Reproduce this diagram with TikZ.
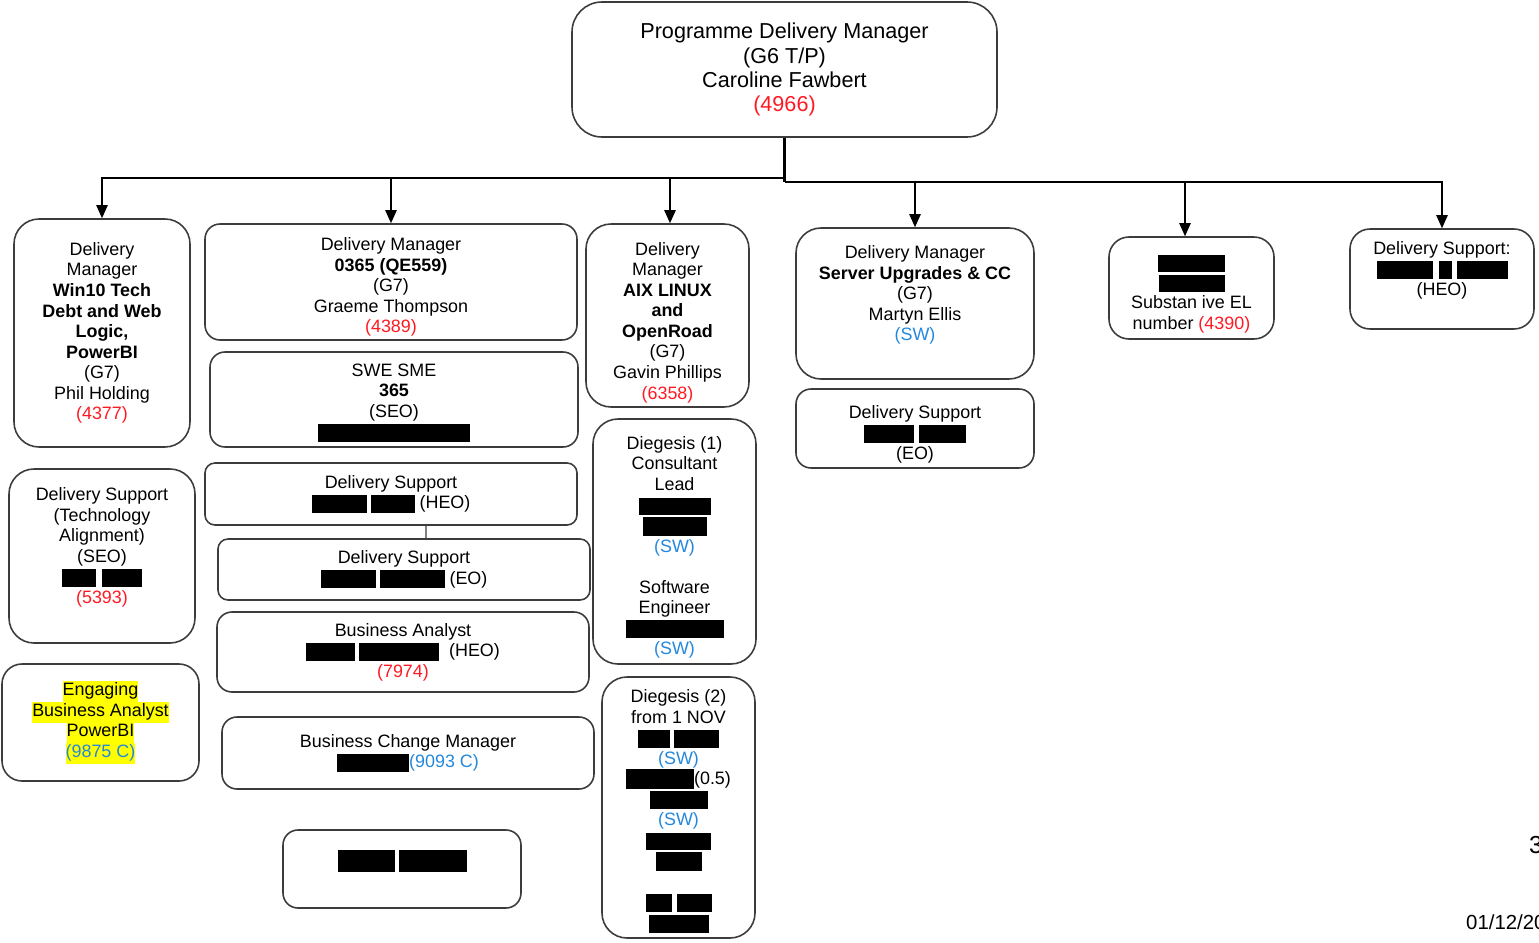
\documentclass[tikz,border=0pt]{standalone}
\usepackage{fontspec}
\setmainfont{Liberation Sans}
\usetikzlibrary{arrows.meta}
\definecolor{numred}{RGB}{255,25,35}
\definecolor{swblue}{RGB}{35,135,220}
\definecolor{hlyellow}{RGB}{255,255,0}
\definecolor{boxgray}{RGB}{60,60,60}
\newlength\pxu \setlength\pxu{0.02cm}
\newcommand{\blk}[2]{\rule[-4\pxu]{#1\pxu}{#2\pxu}}
\newcommand{\topgap}[1]{\rule{0pt}{#1\pxu}}
\newcommand{\hlt}[1]{{\setlength{\fboxsep}{0pt}\colorbox{hlyellow}{\strut #1}}}
\tikzset{
	orgbox/.style={draw=boxgray,line width=0.9pt,align=center,inner sep=2pt,font=\fontsize{10.2}{11.7}\selectfont},
	wh/.style 2 args={minimum width=#1*0.02cm,minimum height=#2*0.02cm},
	arr/.style={-{Triangle[length=7.5pt,width=6.5pt]},line width=0.9pt},
}
\begin{document}
\begin{tikzpicture}[x=0.02cm,y=-0.02cm]
	\useasboundingbox (0,0) rectangle (1539,943);
	
	%top
	\node[orgbox,wh={425}{135},rounded corners=0.6cm,font=\fontsize{12.3}{13.7}\selectfont] (pdm) at (784.5,69.5) {Programme Delivery Manager\\(G6 T/P)\\Caroline Fawbert\\\textcolor{numred}{(4966)}};
	
	%managers
	\node[orgbox,wh={176}{228},rounded corners=0.5cm] (dmwin) at (102,333) {Delivery\\Manager\\\textbf{Win10 Tech}\\\textbf{Debt and Web}\\\textbf{Logic,}\\\textbf{PowerBI}\\(G7)\\Phil Holding\\\textcolor{numred}{(4377)}};
	\node[orgbox,wh={372}{116},rounded corners=0.3cm] (dmo365) at (391,282) {\topgap{23}Delivery Manager\\\textbf{0365 (QE559)}\\(G7)\\Graeme Thompson\\\textcolor{numred}{(4389)}};
	\node[orgbox,wh={163}{183},rounded corners=0.5cm] (dmaix) at (667.5,315.5) {\topgap{27}Delivery\\Manager\\\textbf{AIX LINUX}\\\textbf{and}\\\textbf{OpenRoad}\\(G7)\\Gavin Phillips\\\textcolor{numred}{(6358)}};
	\node[orgbox,wh={238}{151},rounded corners=0.5cm] (dmsrv) at (915,303.5) {Delivery Manager\\\textbf{Server Upgrades \& CC}\\(G7)\\Martyn Ellis\\\textcolor{swblue}{(SW)}\\\mbox{}};
	\node[orgbox,wh={165}{102},rounded corners=0.4cm] (subst) at (1191.5,288) {\topgap{25}\blk{67}{17}\\\blk{66}{17}\\Substan ive EL\\number \textcolor{numred}{(4390)}};
	\node[orgbox,wh={184}{100},rounded corners=0.4cm] (dsheo2) at (1442,279) {Delivery Support:\\\blk{56}{18}\hspace{6\pxu}\blk{13}{18}\hspace{5\pxu}\blk{51}{18}\\(HEO)\\\mbox{}};
	
	%left column
	\node[orgbox,wh={186}{174},rounded corners=0.5cm] (dstech) at (102,556) {Delivery Support\\(Technology\\Alignment)\\(SEO)\\\blk{34}{18}\hspace{6\pxu}\blk{40}{18}\\\textcolor{numred}{(5393)}\\\mbox{}};
	\node[orgbox,wh={197}{117},rounded corners=0.4cm] (eba) at (100.5,722.5) {\hlt{Engaging}\\\hlt{Business Analyst}\\\hlt{PowerBI}\\\hlt{\textcolor{swblue}{(9875 C)}}};
	
	%0365 team
	\node[orgbox,wh={368}{95},rounded corners=0.3cm] (swe) at (394,399.5) {\topgap{19}SWE SME\\\textbf{365}\\(SEO)\\\blk{152}{18}};
	\node[orgbox,wh={372}{62},rounded corners=0.2cm] (dsheo) at (391,494) {Delivery Support\\\blk{55}{18}\hspace{4\pxu}\blk{44}{18} (HEO)};
	\node[orgbox,wh={372}{61},rounded corners=0.2cm] (dseo) at (404,569.5) {Delivery Support\\\blk{55}{18}\hspace{4\pxu}\blk{65}{18} (EO)};
	\node[orgbox,wh={372}{80},rounded corners=0.3cm] (ba) at (403,652) {Business Analyst\\\blk{49}{18}\hspace{4\pxu}\blk{80}{18}\hspace{10\pxu}(HEO)\\\textcolor{numred}{(7974)}};
	\node[orgbox,wh={372}{72},rounded corners=0.3cm] (bcm) at (408,753) {Business Change Manager\\\blk{72}{18}\textcolor{swblue}{(9093 C)}};
	\node[orgbox,wh={238}{78},rounded corners=0.3cm] (blank) at (402,869) {\blk{57}{22}\hspace{4\pxu}\blk{68}{22}\\\mbox{}};
	
	%diegesis
	\node[orgbox,wh={163}{245},rounded corners=0.5cm] (dieg1) at (674.5,541.5) {\topgap{25}Diegesis (1)\\Consultant\\Lead\\\blk{72}{17}\\\blk{64}{19}\\\textcolor{swblue}{(SW)}\\\mbox{}\\Software\\Engineer\\\blk{98}{18}\\\textcolor{swblue}{(SW)}};
	\node[orgbox,wh={153}{261},rounded corners=0.5cm,inner sep=0pt] (dieg2) at (678.5,807.5) {\topgap{20}Diegesis (2)\\from 1 NOV\\\blk{32}{18}\hspace{4\pxu}\blk{45}{18}\\\textcolor{swblue}{(SW)}\\\blk{68}{20}(0.5)\\\blk{58}{18}\\\textcolor{swblue}{(SW)}\\\blk{65}{17}\\\blk{46}{19}\\\mbox{}\\\blk{26}{18}\hspace{5\pxu}\blk{35}{18}\\\blk{60}{18}};
	
	%server team
	\node[orgbox,wh={238}{79},rounded corners=0.3cm] (dseo2) at (915,428.5) {\topgap{24}Delivery Support\\\blk{50}{18}\hspace{5\pxu}\blk{47}{18}\\(EO)};
	
	%arrows
	\coordinate (busL) at (784.5,178);
	\coordinate (busR) at (784.5,182);
	\draw[line width=1.6pt] (pdm.south)--(busR);
	\draw[arr] (busL) -| (dmwin.north);
	\draw[arr] (busL) -| (dmo365.north);
	\draw[arr] (busL) -| ([xshift=0.05cm]dmaix.north);
	\draw[arr] (busR) -| (dmsrv.north);
	\draw[arr] (busR) -| ([xshift=-0.13cm]subst.north);
	\draw[arr] (busR) -| (dsheo2.north);
	\draw[boxgray,line width=0.6pt] ([xshift=0.7cm]dsheo.south)--([xshift=0.44cm]dseo.north);
	
	%page edge
	\node[anchor=west,font=\fontsize{11.6}{13}\selectfont] (date) at (1460,922) {01/12/20};
	\node[anchor=west,font=\fontsize{14}{16}\selectfont] (pgno) at (1523,845) {3};
\end{tikzpicture}
\end{document}
